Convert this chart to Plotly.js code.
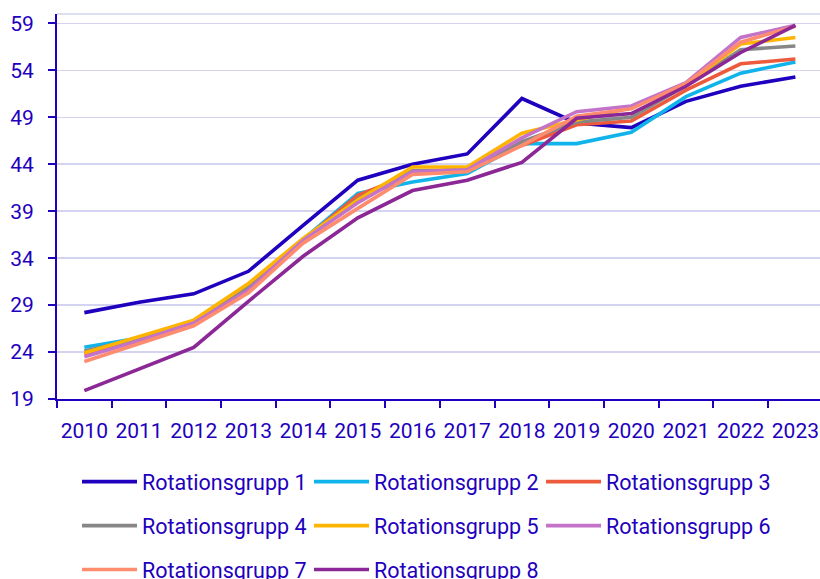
<!DOCTYPE html>
<html>
<head>
<meta charset="utf-8">
<script src="https://cdn.plot.ly/plotly-3.0.1.min.js"></script>
<style>html,body{margin:0;padding:0;background:#fff}#chart{width:820px;height:579px}</style>
</head>
<body>
<div id="chart"></div>
<script>
const years = ["2010","2011","2012","2013","2014","2015","2016","2017","2018","2019","2020","2021","2022","2023"];
const seriesNames = ["Rotationsgrupp 1","Rotationsgrupp 2","Rotationsgrupp 3","Rotationsgrupp 4","Rotationsgrupp 5","Rotationsgrupp 6","Rotationsgrupp 7","Rotationsgrupp 8"];
const g1 = [28.2, 29.3, 30.2, 32.6, 37.5, 42.3, 44.0, 45.1, 51.0, 48.4, 47.9, 50.7, 52.3, 53.3];
const g2 = [24.5, 25.5, 27.2, 31.0, 36.0, 40.9, 42.1, 43.0, 46.2, 46.2, 47.4, 51.2, 53.7, 54.9];
const g3 = [23.8, 25.2, 27.0, 30.8, 35.9, 40.7, 43.0, 43.6, 46.0, 48.2, 48.6, 51.9, 54.7, 55.2];
const g4 = [24.1, 25.4, 27.1, 30.9, 35.8, 40.3, 43.3, 43.4, 46.4, 48.5, 49.0, 52.4, 56.2, 56.6];
const g5 = [23.9, 25.6, 27.4, 31.3, 36.1, 40.2, 43.7, 43.7, 47.3, 48.7, 50.0, 52.5, 56.8, 57.5];
const g6 = [23.5, 25.2, 27.1, 30.6, 35.9, 39.9, 43.2, 43.4, 46.8, 49.6, 50.2, 52.7, 57.5, 58.8];
const g7 = [23.0, 24.9, 26.8, 30.3, 35.6, 39.3, 42.9, 43.2, 46.0, 49.1, 49.9, 52.6, 57.0, 58.7];
const g8 = [19.9, 22.2, 24.5, 29.4, 34.2, 38.3, 41.2, 42.3, 44.2, 48.9, 49.4, 52.3, 55.9, 58.8];
const yTicks = [19, 24, 29, 34, 39, 44, 49, 54, 59];

const values = [g1, g2, g3, g4, g5, g6, g7, g8];
const colors = ["#1E00BE","#10B4EB","#EE5A3C","#878787","#FFB400","#C373C8","#FF8C6E","#8C2896"];
const legendIds = ["legend","legend","legend","legend2","legend2","legend2","legend3","legend3"];
const textColor = "#1E00BE";
const font = {family: "Roboto, 'Open Sans', sans-serif", size: 21, color: textColor};
const legFont = {family: "Roboto, 'Open Sans', sans-serif", size: 21.5, color: textColor};

const traces = values.map((v, i) => ({
  type: "scatter", mode: "lines", x: years, y: v, name: seriesNames[i],
  line: {color: colors[i], width: 3.6}, legend: legendIds[i], hoverinfo: "skip"
}));

function leg(ypix) {
  return {
    orientation: "h", x: (77 - 57) / 763, xanchor: "left",
    y: (399.3 - ypix) / 385.3, yanchor: "middle",
    entrywidth: 162, entrywidthmode: "pixels", itemwidth: 55,
    font: legFont, bgcolor: "rgba(0,0,0,0)", borderwidth: 0, traceorder: "normal"
  };
}

const layout = {
  width: 820, height: 579,
  margin: {l: 57, r: 0, t: 14, b: 180, pad: 0, autoexpand: false},
  paper_bgcolor: "#ffffff", plot_bgcolor: "#ffffff",
  font: font,
  showlegend: true,
  xaxis: {
    type: "category", range: [-0.5, 13.45], tickson: "boundaries",
    ticks: "outside", ticklen: 7, tickwidth: 2, tickcolor: textColor,
    showline: true, linecolor: textColor, linewidth: 2, tickangle: 0,
    showgrid: false, zeroline: false, tickfont: font, ticklabelstandoff: 12, fixedrange: true
  },
  yaxis: {
    range: [19, 60], tickvals: yTicks, ticktext: yTicks.map(String),
    ticks: "outside", ticklen: 7, tickwidth: 2, tickcolor: textColor,
    showline: true, linecolor: textColor, linewidth: 2,
    showgrid: true, gridcolor: "#D4D4F0", gridwidth: 1.5,
    zeroline: false, tickfont: font, ticklabelstandoff: 10, fixedrange: true
  },
  shapes: [{type: "line", xref: "paper", yref: "paper", x0: 0, x1: 1, y0: 1, y1: 1,
    line: {color: "#D4D4F0", width: 1.5}}],
  legend: leg(482),
  legend2: leg(526),
  legend3: leg(570)
};

Plotly.newPlot("chart", traces, layout, {staticPlot: true, displayModeBar: false});
</script>
</body>
</html>
